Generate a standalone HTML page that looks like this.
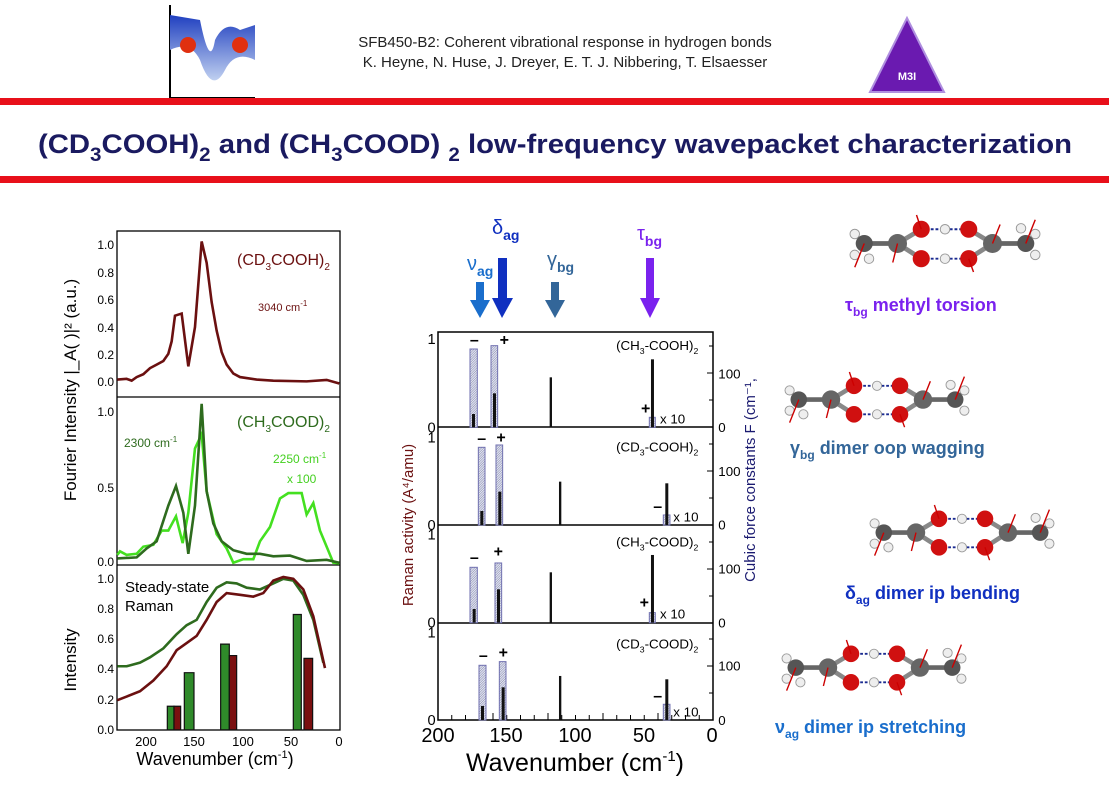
<!DOCTYPE html>
<html><head><meta charset="utf-8"><style>
body{margin:0;background:#fff}
svg{display:block;font-family:"Liberation Sans",Arial,sans-serif}
</style></head><body>
<svg width="1109" height="800" viewBox="0 0 1109 800" xmlns="http://www.w3.org/2000/svg">
<defs>
<linearGradient id="lg" x1="0" y1="0" x2="0" y2="1"><stop offset="0" stop-color="#2040c0"/><stop offset="1" stop-color="#c0d0f0"/></linearGradient>
<pattern id="hatch" width="5" height="5" patternUnits="userSpaceOnUse" patternTransform="rotate(45)"><rect width="5" height="5" fill="#dde0f4"/><line x1="0" y1="0" x2="0" y2="5" stroke="#334" stroke-width="1.4"/></pattern>
<g id="mol">
 <line x1="15" y1="30" x2="50" y2="30" stroke="#666" stroke-width="5"/>
 <line x1="50" y1="30" x2="75" y2="15" stroke="#888" stroke-width="5"/>
 <line x1="50" y1="30" x2="75" y2="46" stroke="#888" stroke-width="5"/>
 <line x1="125" y1="15" x2="150" y2="30" stroke="#888" stroke-width="5"/>
 <line x1="125" y1="46" x2="150" y2="30" stroke="#888" stroke-width="5"/>
 <line x1="150" y1="30" x2="185" y2="30" stroke="#666" stroke-width="5"/>
 <line x1="80" y1="15" x2="122" y2="15" stroke="#1a2a90" stroke-width="2" stroke-dasharray="3,2"/>
 <line x1="80" y1="46" x2="122" y2="46" stroke="#1a2a90" stroke-width="2" stroke-dasharray="3,2"/>
 <circle cx="5" cy="20" r="5" fill="#eee" stroke="#999"/><circle cx="5" cy="42" r="5" fill="#eee" stroke="#999"/><circle cx="20" cy="46" r="5" fill="#eee" stroke="#999"/>
 <circle cx="195" cy="20" r="5" fill="#eee" stroke="#999"/><circle cx="195" cy="42" r="5" fill="#eee" stroke="#999"/><circle cx="180" cy="14" r="5" fill="#eee" stroke="#999"/>
 <circle cx="15" cy="30" r="9" fill="#555"/><circle cx="50" cy="30" r="10" fill="#666"/>
 <circle cx="150" cy="30" r="10" fill="#666"/><circle cx="185" cy="30" r="9" fill="#555"/>
 <circle cx="75" cy="15" r="9" fill="#d01010"/><circle cx="75" cy="46" r="9" fill="#d01010"/>
 <circle cx="125" cy="15" r="9" fill="#d01010"/><circle cx="125" cy="46" r="9" fill="#d01010"/>
 <circle cx="100" cy="15" r="5" fill="#eee" stroke="#999"/><circle cx="100" cy="46" r="5" fill="#eee" stroke="#999"/>
 <g stroke="#c00" stroke-width="1.5"><line x1="75" y1="15" x2="70" y2="0"/><line x1="125" y1="46" x2="130" y2="60"/><line x1="15" y1="30" x2="5" y2="55"/><line x1="185" y1="30" x2="195" y2="5"/><line x1="50" y1="30" x2="45" y2="50"/><line x1="150" y1="30" x2="158" y2="10"/></g>
</g>
</defs>
<rect width="1109" height="800" fill="#fff"/>
<!-- header -->
<g>
 <line x1="170" y1="98" x2="170" y2="5" stroke="#000" stroke-width="2"/>
 <line x1="170" y1="98" x2="255" y2="98" stroke="#000" stroke-width="2"/>
 <path d="M170 15 L200 20 Q210 70 215 40 Q225 20 240 30 L255 25 L255 60 Q235 50 225 70 Q212 95 200 60 Q190 40 170 50Z" fill="url(#lg)"/>
 <circle cx="188" cy="45" r="8" fill="#e03010"/><circle cx="240" cy="45" r="8" fill="#e03010"/>
 <text x="565" y="47" font-size="15" text-anchor="middle" fill="#222">SFB450-B2: Coherent vibrational response in hydrogen bonds</text>
 <text x="565" y="67" font-size="15" text-anchor="middle" fill="#222">K. Heyne, N. Huse, J. Dreyer, E. T. J. Nibbering, T. Elsaesser</text>
 <polygon points="907,18 870,92 944,92" fill="#6a1ab0" stroke="#b090e0" stroke-width="2"/>
 <text x="907" y="80" font-size="11" fill="#fff" text-anchor="middle" font-weight="bold">M3I</text>
</g>
<rect x="0" y="98" width="1109" height="7" fill="#e8101a"/>
<rect x="0" y="176" width="1109" height="7" fill="#e8101a"/>
<text x="38" y="153" font-size="27" font-weight="bold" fill="#1a1a60" textLength="1034" lengthAdjust="spacingAndGlyphs">(CD<tspan font-size="19" dy="8">3</tspan><tspan dy="-8">COOH)</tspan><tspan font-size="19" dy="8">2</tspan><tspan dy="-8"> and (CH</tspan><tspan font-size="19" dy="8">3</tspan><tspan dy="-8">COOD) </tspan><tspan font-size="19" dy="8">2</tspan><tspan dy="-8"> low-frequency wavepacket characterization</tspan></text>

<!-- LEFT CHART -->
<g stroke="#000" stroke-width="1.3" fill="none">
 <rect x="117" y="231" width="223" height="499"/>
 <line x1="117" y1="397" x2="340" y2="397"/>
 <line x1="117" y1="565" x2="340" y2="565"/>
</g>
<g font-size="12" fill="#000" text-anchor="end">
 <text x="114" y="249">1.0</text><text x="114" y="277">0.8</text><text x="114" y="304">0.6</text><text x="114" y="332">0.4</text><text x="114" y="359">0.2</text><text x="114" y="386">0.0</text>
 <text x="114" y="416">1.0</text><text x="114" y="492">0.5</text><text x="114" y="566">0.0</text>
 <text x="114" y="583">1.0</text><text x="114" y="613">0.8</text><text x="114" y="643">0.6</text><text x="114" y="673">0.4</text><text x="114" y="704">0.2</text><text x="114" y="734">0.0</text>
</g>
<g font-size="13" text-anchor="middle"><text x="146" y="746">200</text><text x="194" y="746">150</text><text x="243" y="746">100</text><text x="291" y="746">50</text><text x="339" y="746">0</text></g>
<text x="215" y="765" font-size="18" text-anchor="middle">Wavenumber (cm<tspan font-size="11" dy="-7">-1</tspan><tspan dy="7">)</tspan></text>
<text transform="translate(76,390) rotate(-90)" font-size="17" text-anchor="middle">Fourier Intensity |_A( )|² (a.u.)</text>
<text transform="translate(76,660) rotate(-90)" font-size="17" text-anchor="middle">Intensity</text>
<g transform="translate(40,220) scale(0.3333,0.357)" fill="none" stroke-width="2.6">
 <polyline vector-effect="non-scaling-stroke" stroke="#6b1010" stroke-width="2.6" points="232,447 260,445 275,450 290,440 310,432 330,415 350,405 370,395 385,375 395,340 405,268 425,262 445,410 465,300 485,60 500,120 515,230 530,310 545,370 560,405 580,430 600,440 650,447 700,450 800,452 860,448 898,458"/>
 <polyline vector-effect="non-scaling-stroke" stroke="#44e020" stroke-width="2.6" points="232,938 240,928 260,938 290,935 310,915 340,910 365,870 385,870 408,830 428,905 445,820 465,640 485,600 500,760 530,880 560,920 580,960 610,950 640,950 660,900 690,860 720,780 745,765 785,765 800,825 820,793 840,870 880,960 898,962"/>
 <polyline vector-effect="non-scaling-stroke" stroke="#2e6b1e" stroke-width="2.6" points="232,948 290,945 320,920 350,900 385,800 408,745 430,820 445,935 465,800 485,515 500,760 520,850 545,900 580,925 620,935 660,935 700,942 750,940 800,955 860,952 898,960"/>
 <polyline vector-effect="non-scaling-stroke" stroke="#2e6b1e" stroke-width="2.6" points="232,1250 260,1250 300,1240 330,1225 370,1200 410,1160 440,1135 470,1120 500,1070 530,1030 560,1015 590,1018 620,1030 660,1035 700,1018 730,1005 760,1010 790,1050 820,1120 850,1240"/>
 <polyline vector-effect="non-scaling-stroke" stroke="#6b1010" stroke-width="2.6" points="232,1345 260,1335 300,1320 340,1290 380,1250 410,1205 440,1185 470,1165 500,1120 530,1070 560,1045 600,1050 640,1055 670,1045 700,1010 730,1000 760,1005 790,1035 820,1110 855,1255"/>
 <g stroke="#111" stroke-width="1.2">
  <rect vector-effect="non-scaling-stroke" x="382" y="1362" width="20" height="66" fill="#2f8a2a"/>
  <rect vector-effect="non-scaling-stroke" x="402" y="1362" width="20" height="66" fill="#7a1010"/>
  <rect vector-effect="non-scaling-stroke" x="433" y="1268" width="29" height="160" fill="#2f8a2a"/>
  <rect vector-effect="non-scaling-stroke" x="542" y="1188" width="26" height="240" fill="#2f8a2a"/>
  <rect vector-effect="non-scaling-stroke" x="568" y="1220" width="22" height="208" fill="#7a1010"/>
  <rect vector-effect="non-scaling-stroke" x="760" y="1105" width="24" height="323" fill="#2f8a2a"/>
  <rect vector-effect="non-scaling-stroke" x="792" y="1228" width="26" height="200" fill="#7a1010"/>
 </g>
</g>
<text x="237" y="265" font-size="16" fill="#6b1010">(CD<tspan font-size="10" dy="5">3</tspan><tspan dy="-5">COOH)</tspan><tspan font-size="10" dy="5">2</tspan></text>
<text x="258" y="311" font-size="11" fill="#6b1010">3040 cm<tspan font-size="8" dy="-5">-1</tspan></text>
<text x="237" y="427" font-size="16" fill="#2e6b1e">(CH<tspan font-size="10" dy="5">3</tspan><tspan dy="-5">COOD)</tspan><tspan font-size="10" dy="5">2</tspan></text>
<text x="124" y="447" font-size="12" fill="#2e6b1e">2300 cm<tspan font-size="8" dy="-5">-1</tspan></text>
<text x="273" y="463" font-size="12" fill="#44d020">2250 cm<tspan font-size="8" dy="-5">-1</tspan></text>
<text x="287" y="483" font-size="12" fill="#44d020">x 100</text>
<text x="125" y="592" font-size="15">Steady-state</text>
<text x="125" y="611" font-size="15">Raman</text>

<!-- MIDDLE CHART -->
<g stroke="#000" stroke-width="1.5" fill="none">
 <rect x="438" y="332" width="275" height="388"/>
 <line x1="438" y1="427" x2="713" y2="427"/><line x1="438" y1="525" x2="713" y2="525"/><line x1="438" y1="623" x2="713" y2="623"/>
</g>
<g stroke="#000" stroke-width="1">
 <path d="M451.75 720v-5M465.5 720v-5M479.25 720v-5M493 720v-7M506.75 720v-5M520.5 720v-5M534.25 720v-5M548 720v-7M561.75 720v-5M575.5 720v-5M589.25 720v-5M603 720v-7M616.75 720v-5M630.5 720v-5M644.25 720v-5M658 720v-7M671.75 720v-5M685.5 720v-5M699.25 720v-5"/>
 <path d="M713 373h-6M713 400h-4M713 346h-4M713 471h-6M713 498h-4M713 444h-4M713 569h-6M713 596h-4M713 542h-4M713 666h-6M713 693h-4M713 639h-4"/>
</g>
<g transform="translate(390,320) scale(0.3333)">
 <g fill="url(#hatch)" stroke="#7070b0" stroke-width="3">
  <rect x="240" y="87" width="22" height="235"/><rect x="303" y="77" width="20" height="245"/><rect x="778" y="292" width="18" height="30"/>
  <rect x="265" y="382" width="20" height="233"/><rect x="318" y="375" width="20" height="240"/><rect x="820" y="585" width="20" height="30"/>
  <rect x="240" y="742" width="22" height="166"/><rect x="315" y="729" width="20" height="179"/><rect x="778" y="878" width="18" height="30"/>
  <rect x="267" y="1036" width="21" height="164"/><rect x="328" y="1025" width="20" height="175"/><rect x="820" y="1153" width="20" height="47"/>
 </g>
 <g fill="#111">
  <rect x="246" y="282" width="9" height="40"/><rect x="309" y="220" width="9" height="102"/><rect x="479" y="172" width="7" height="150"/><rect x="783" y="118" width="9" height="204"/>
  <rect x="271" y="573" width="9" height="42"/><rect x="325" y="515" width="9" height="100"/><rect x="507" y="485" width="7" height="130"/><rect x="826" y="490" width="9" height="125"/>
  <rect x="248" y="867" width="9" height="41"/><rect x="321" y="808" width="9" height="100"/><rect x="479" y="757" width="7" height="151"/><rect x="783" y="705" width="9" height="203"/>
  <rect x="273" y="1158" width="9" height="42"/><rect x="335" y="1102" width="9" height="98"/><rect x="507" y="1068" width="7" height="132"/><rect x="826" y="1078" width="9" height="122"/>
 </g>
 <g font-size="48" text-anchor="middle" font-weight="bold">
  <text x="253" y="75">–</text><text x="343" y="75">+</text><text x="767" y="280">+</text>
  <text x="275" y="370">–</text><text x="333" y="367">+</text><text x="803" y="575">–</text>
  <text x="253" y="728">–</text><text x="325" y="710">+</text><text x="763" y="863">+</text>
  <text x="280" y="1022">–</text><text x="340" y="1012">+</text><text x="803" y="1143">–</text>
 </g>
 <g font-size="40"><text x="810" y="310">x 10</text><text x="850" y="605">x 10</text><text x="810" y="895">x 10</text><text x="850" y="1190">x 10</text></g>
 <g font-size="40" text-anchor="end">
  <text x="925" y="90">(CH<tspan font-size="26" dy="12">3</tspan><tspan dy="-12">-COOH)</tspan><tspan font-size="26" dy="12">2</tspan></text>
  <text x="925" y="395">(CD<tspan font-size="26" dy="12">3</tspan><tspan dy="-12">-COOH)</tspan><tspan font-size="26" dy="12">2</tspan></text>
  <text x="925" y="680">(CH<tspan font-size="26" dy="12">3</tspan><tspan dy="-12">-COOD)</tspan><tspan font-size="26" dy="12">2</tspan></text>
  <text x="925" y="985">(CD<tspan font-size="26" dy="12">3</tspan><tspan dy="-12">-COOD)</tspan><tspan font-size="26" dy="12">2</tspan></text>
 </g>
 <g font-size="44" text-anchor="end"><text x="137" y="72">1</text><text x="137" y="338">0</text><text x="137" y="367">1</text><text x="137" y="630">0</text><text x="137" y="658">1</text><text x="137" y="922">0</text><text x="137" y="952">1</text><text x="137" y="1215">0</text></g>
 <g font-size="40"><text x="985" y="175">100</text><text x="985" y="336">0</text><text x="985" y="468">100</text><text x="985" y="628">0</text><text x="985" y="760">100</text><text x="985" y="922">0</text><text x="985" y="1052">100</text><text x="985" y="1215">0</text></g>
</g>
<g font-size="20" text-anchor="middle"><text x="438" y="742">200</text><text x="506" y="742">150</text><text x="575" y="742">100</text><text x="644" y="742">50</text><text x="712" y="742">0</text></g>
<text x="575" y="771" font-size="25" text-anchor="middle">Wavenumber (cm<tspan font-size="15" dy="-10">-1</tspan><tspan dy="10">)</tspan></text>
<text transform="translate(413,525) rotate(-90)" font-size="15" fill="#6b1010" text-anchor="middle">Raman activity (A⁴/amu)</text>
<text transform="translate(755,480) rotate(-90)" font-size="15" fill="#1a1a70" text-anchor="middle">Cubic force constants F (cm⁻¹,</text>

<!-- arrows -->
<g>
 <rect x="476" y="282" width="8" height="20" fill="#1a6ecc"/><polygon points="470,300 490,300 480,318" fill="#1a6ecc"/>
 <rect x="498" y="258" width="9" height="42" fill="#1030c0"/><polygon points="492,298 513,298 502,318" fill="#1030c0"/>
 <rect x="551" y="282" width="8" height="20" fill="#336699"/><polygon points="545,300 565,300 555,318" fill="#336699"/>
 <rect x="646" y="258" width="8" height="42" fill="#7a22ee"/><polygon points="640,298 660,298 650,318" fill="#7a22ee"/>
</g>
<text x="467" y="270" font-size="20" fill="#1a6ecc">ν<tspan font-size="14" font-weight="bold" dy="6">ag</tspan></text>
<text x="492" y="234" font-size="20" fill="#1030c0">δ<tspan font-size="14" font-weight="bold" dy="6">ag</tspan></text>
<text x="547" y="266" font-size="20" fill="#336699">γ<tspan font-size="14" font-weight="bold" dy="6">bg</tspan></text>
<text x="637" y="240" font-size="20" fill="#7a22ee">τ<tspan font-size="14" font-weight="bold" dy="6">bg</tspan></text>

<!-- molecules -->
<use href="#mol" transform="translate(850,215) scale(0.95)"/>
<use href="#mol" transform="translate(785,372) scale(0.92)"/>
<use href="#mol" transform="translate(870,505) scale(0.92)"/>
<use href="#mol" transform="translate(782,640) scale(0.92)"/>
<text x="845" y="311" font-size="18" font-weight="bold" fill="#7a22ee">τ<tspan font-size="12" dy="5">bg</tspan><tspan dy="-5"> methyl torsion</tspan></text>
<text x="790" y="454" font-size="18" font-weight="bold" fill="#336699">γ<tspan font-size="12" dy="5">bg</tspan><tspan dy="-5"> dimer oop wagging</tspan></text>
<text x="845" y="599" font-size="18" font-weight="bold" fill="#1030c0">δ<tspan font-size="12" dy="5">ag</tspan><tspan dy="-5"> dimer ip bending</tspan></text>
<text x="775" y="733" font-size="18" font-weight="bold" fill="#1a6ecc">ν<tspan font-size="12" dy="5">ag</tspan><tspan dy="-5"> dimer ip stretching</tspan></text>
</svg>
</body></html>
